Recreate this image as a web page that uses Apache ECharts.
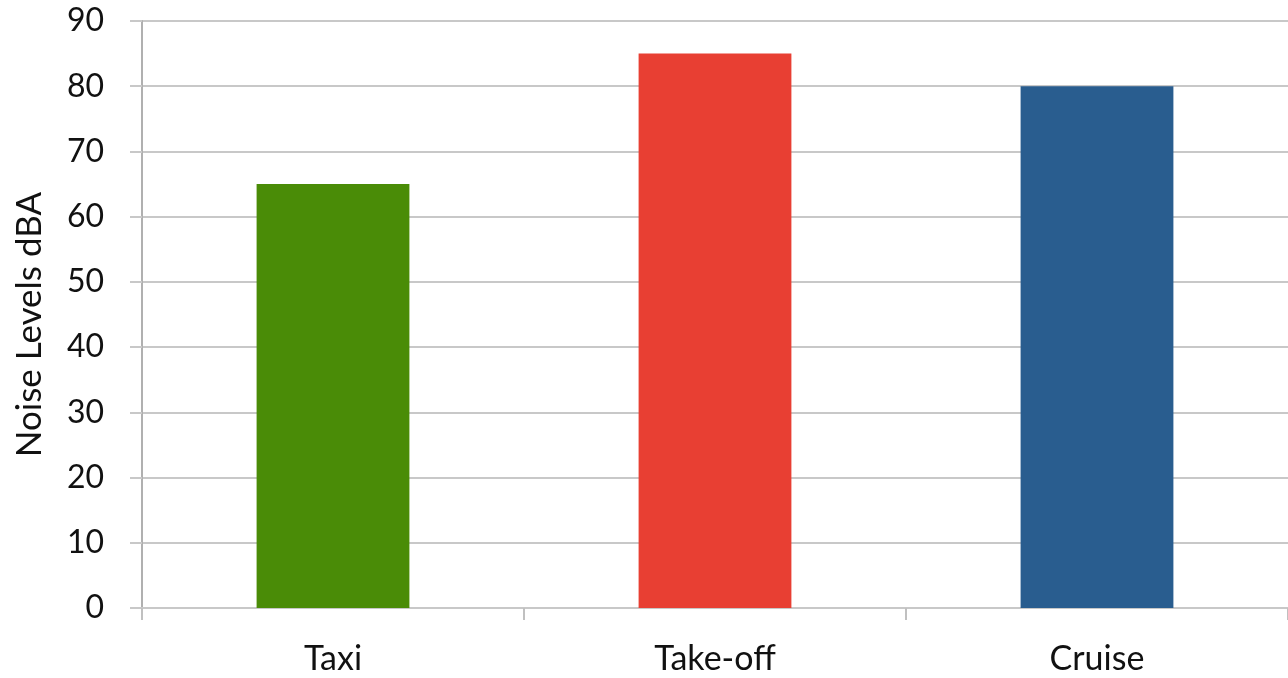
<!DOCTYPE html>
<html>
<head>
<meta charset="utf-8">
<script src="https://cdn.jsdelivr.net/npm/echarts@6/dist/echarts.min.js"></script>
<style>
  html, body { margin: 0; padding: 0; background: #ffffff; }
  #chart { width: 1288px; height: 678px; }
</style>
</head>
<body>
<div id="chart"></div>
<script>
// Aircraft noise by flight phase
const phases = ['Taxi', 'Take-off', 'Cruise'];
const noiseDbA = [65, 85, 80];
const phaseColors = ['#4a8c07', '#e83f33', '#295d8f'];
const yTicks = { min: 0, max: 90, interval: 10 };
const yTitle = 'Noise Levels dBA';

const chart = echarts.init(document.getElementById('chart'), null, { renderer: 'canvas' });
const font = 'Lato, "Open Sans", sans-serif';

chart.setOption({
  animation: false,
  backgroundColor: '#ffffff',
  grid: { left: 142, top: 21, right: -2, bottom: 70, containLabel: false },
  xAxis: {
    type: 'category',
    data: phases,
    axisLine: { show: true, lineStyle: { color: '#c8c8c8', width: 2 } },
    axisTick: { show: true, length: 12, alignWithLabel: false, lineStyle: { color: '#c0c0c0', width: 2 } },
    axisLabel: { color: '#111111', fontSize: 34, fontFamily: font, margin: 34 }
  },
  yAxis: {
    type: 'value',
    min: yTicks.min,
    max: yTicks.max,
    interval: yTicks.interval,
    name: yTitle,
    nameLocation: 'middle',
    nameGap: 95,
    nameRotate: 90,
    nameTextStyle: { color: '#111111', fontSize: 35, fontFamily: font, padding: [0, 20, 0, 0] },
    axisLine: { show: true, lineStyle: { color: '#b0b0b0', width: 2 } },
    axisTick: { show: true, length: 12, lineStyle: { color: '#c8c8c8', width: 2 } },
    axisLabel: { color: '#111111', fontSize: 32, fontFamily: font, margin: 38, padding: [4, 0, 0, 0] },
    splitLine: { show: true, lineStyle: { color: '#c8c8c8', width: 2 } }
  },
  series: [{
    type: 'bar',
    data: noiseDbA.map((v, i) => ({ value: v, itemStyle: { color: phaseColors[i] } })),
    barWidth: '40%'
  }]
});
</script>
</body>
</html>
